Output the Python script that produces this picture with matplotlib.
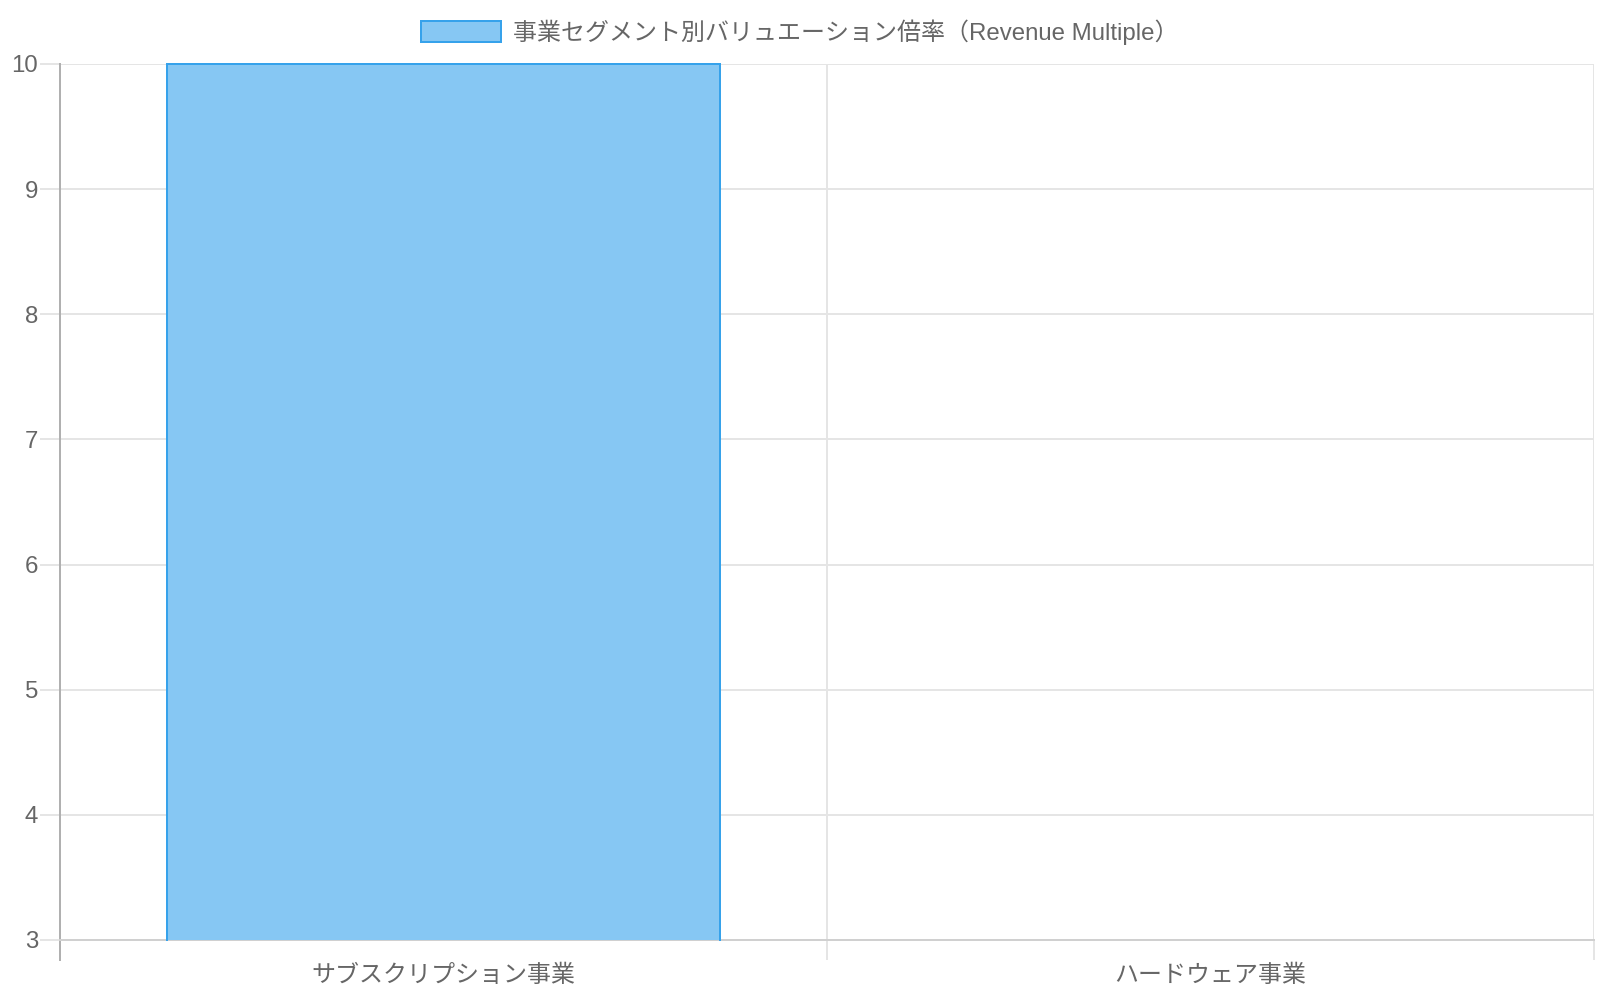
import matplotlib
matplotlib.use("Agg")
import matplotlib.pyplot as plt
from matplotlib.ticker import FixedLocator
from matplotlib.patches import Patch

categories = ["サブスクリプション事業", "ハードウェア事業"]
values = [10, 1.5]
series_label = "事業セグメント別バリュエーション倍率（Revenue Multiple）"
y_min, y_max = 3, 10
y_ticks = [3, 4, 5, 6, 7, 8, 9, 10]

FAMILY = ["Liberation Sans", "Noto Sans CJK JP", "DejaVu Sans"]
plt.rcParams["font.family"] = FAMILY

PX = 72 / 100.0  # points per pixel at dpi 100
TEXT = "#666666"
GRID = "#e5e5e5"
FILL = "#86c7f3"
EDGE = "#36a2eb"
AXIS = "#b0b0b0"

fig = plt.figure(figsize=(16, 10), dpi=100)
ax = fig.add_axes([60 / 1600, 60 / 1000, (1594 - 60) / 1600, (940 - 64) / 1000])

x = list(range(len(categories)))
heights = [v - y_min for v in values]
bars = ax.bar(x, heights, bottom=y_min, width=0.72, color=FILL, edgecolor="none", zorder=3)
for rect, v in zip(bars, values):
    if v <= y_min:
        continue
    x0 = rect.get_x()
    w = rect.get_width()
    top = min(v, y_max)
    ax.plot([x0, x0, x0 + w, x0 + w], [y_min, top, top, y_min], color=EDGE,
            lw=2 * PX, zorder=4, solid_joinstyle="miter", clip_on=False)

ax.set_xlim(-0.5, len(categories) - 0.5)
ax.set_ylim(y_min, y_max)

# y axis
ax.yaxis.set_major_locator(FixedLocator(y_ticks))
ax.set_yticklabels([str(t) for t in y_ticks])
ax.tick_params(axis="y", which="major", length=20 * PX, width=2 * PX, color=GRID,
               pad=2 * PX, labelsize=24 * PX, labelcolor=TEXT)
ax.grid(axis="y", which="major", color=GRID, lw=2 * PX, zorder=0)

# x axis: labels at centres, gridlines at category boundaries
ax.xaxis.set_major_locator(FixedLocator(x))
ax.set_xticklabels(categories)
ax.tick_params(axis="x", which="major", length=0, pad=17.5, labelsize=24 * PX, labelcolor=TEXT)
boundaries = [i + 0.5 for i in range(len(categories))]
ax.xaxis.set_minor_locator(FixedLocator(boundaries))
ax.tick_params(axis="x", which="minor", length=20 * PX, width=2 * PX, color=GRID)
ax.grid(axis="x", which="minor", color=GRID, lw=2 * PX, zorder=0)

for s in ["top", "right"]:
    ax.spines[s].set_visible(False)
ax.spines["left"].set_color(AXIS)
ax.spines["left"].set_linewidth(2 * PX)
ax.spines["bottom"].set_color("#d0d0d0")
ax.spines["bottom"].set_linewidth(2 * PX)
# extend left axis line down like a tick mark
ax.plot([-0.5, -0.5], [-20 / 876, 0], transform=ax.get_xaxis_transform(), color=AXIS,
        lw=2 * PX, clip_on=False)

# legend
handle = Patch(facecolor=FILL, edgecolor=EDGE, linewidth=2 * PX)
leg = fig.legend([handle], [series_label], loc="center", bbox_to_anchor=(0.5, 1 - 32 / 1000),
                 frameon=False, fontsize=24 * PX, handlelength=80 / 24, handleheight=1.0,
                 handletextpad=12 / 24, labelcolor=TEXT)

fig.savefig("out.png", dpi=100, facecolor="white")
